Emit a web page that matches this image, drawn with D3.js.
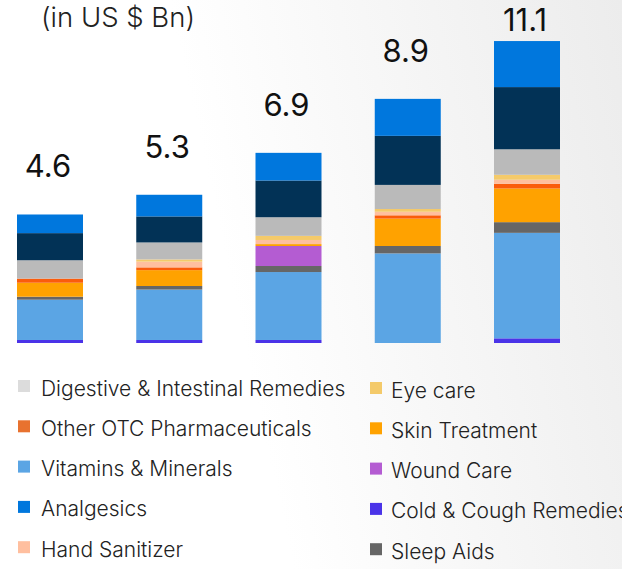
<!DOCTYPE html>
<html>
<head>
<meta charset="utf-8">
<script src="https://cdn.jsdelivr.net/npm/d3@7"></script>
<style>
  html, body { margin: 0; padding: 0; overflow: hidden; }
  svg { display: block; font-family: Inter, Roboto, "Noto Sans", sans-serif; }
</style>
</head>
<body>
<svg id="chart" width="622" height="569"></svg>
<script>
// ---- data (US $ Bn) ----
const categories = ["P1", "P2", "P3", "P4", "P5"];
const totalLabels = ["4.6", "5.3", "6.9", "8.9", "11.1"];

// stacked series, bottom to top
const coldCough     = [0.11, 0.11, 0.11, 0.00, 0.17];
const vitamins      = [1.47, 1.84, 2.48, 3.27, 3.85];
const sleepAids     = [0.11, 0.13, 0.22, 0.27, 0.39];
const woundCare     = [0.00, 0.00, 0.73, 0.00, 0.00];
const skinTreatment = [0.51, 0.58, 0.07, 1.00, 1.23];
const otherOTC      = [0.15, 0.10, 0.00, 0.12, 0.17];
const handSanitizer = [0.00, 0.21, 0.15, 0.13, 0.15];
const eyeCare       = [0.00, 0.08, 0.15, 0.10, 0.18];
const digestive     = [0.67, 0.62, 0.68, 0.88, 0.93];
const otherSegments = [0.99, 0.95, 1.34, 1.79, 2.27];
const analgesics    = [0.68, 0.79, 1.01, 1.35, 1.68];

const seriesNames = ["Cold & Cough Remedies", "Vitamins & Minerals", "Sleep Aids", "Wound Care",
  "Skin Treatment", "Other OTC Pharmaceuticals", "Hand Sanitizer", "Eye care",
  "Digestive & Intestinal Remedies", "Others", "Analgesics"];
const seriesValues = [coldCough, vitamins, sleepAids, woundCare, skinTreatment, otherOTC,
  handSanitizer, eyeCare, digestive, otherSegments, analgesics];
const seriesColors = ["#4a33e8", "#5ba5e4", "#666666", "#b45cd2", "#ffa200", "#fa5c0c",
  "#ffbf9f", "#f4ca6a", "#bababa", "#023256", "#0077dd"];

const legendLeft  = ["Digestive & Intestinal Remedies", "Other OTC Pharmaceuticals", "Vitamins & Minerals", "Analgesics", "Hand Sanitizer"];
const legendRight = ["Eye care", "Skin Treatment", "Wound Care", "Cold & Cough Remedies", "Sleep Aids"];
const legendSwatch = {
  "Digestive & Intestinal Remedies": "#dcdcdc",
  "Other OTC Pharmaceuticals": "#e8722f"
};

// ---- build ----
const W = 622, H = 569;
const svg = d3.select("#chart");

const defs = svg.append("defs");
const grad = defs.append("linearGradient").attr("id", "bg")
  .attr("x1", "0").attr("y1", "0.2").attr("x2", "1").attr("y2", "0");
grad.append("stop").attr("offset", "0.3").attr("stop-color", "#ffffff");
grad.append("stop").attr("offset", "1").attr("stop-color", "#ececec");
svg.append("rect").attr("width", W).attr("height", H).attr("fill", "url(#bg)");

const table = categories.map((c, i) => {
  const row = { cat: c };
  seriesNames.forEach((s, k) => row[s] = seriesValues[k][i]);
  return row;
});
const stack = d3.stack().keys(seriesNames)(table);

const x = d3.scalePoint().domain(categories).range([50, 527]);
const barW = 66;
const y = d3.scaleLinear().domain([0, 12]).range([343, 343 - 12 * 27.4]);
const color = d3.scaleOrdinal().domain(seriesNames).range(seriesColors);

svg.append("g").selectAll("g").data(stack).join("g")
  .attr("fill", d => color(d.key))
  .selectAll("rect").data(d => d).join("rect")
  .attr("x", d => x(d.data.cat) - barW / 2)
  .attr("width", barW)
  .attr("y", d => y(d[1]))
  .attr("height", d => Math.max(0, y(d[0]) - y(d[1])));

// totals
const tops = categories.map((c, i) => d3.sum(seriesValues, s => s[i]));
svg.append("g").selectAll("text").data(categories).join("text")
  .attr("x", d => x(d) - 2)
  .attr("y", (d, i) => Math.max(y(tops[i]) - 37, 31))
  .attr("text-anchor", "middle")
  .attr("font-size", 31)
  .attr("fill", "#111")
  .text((d, i) => totalLabels[i]);

// unit label
svg.append("text").attr("x", 41).attr("y", 27)
  .attr("font-size", 27.5).attr("font-weight", 300).attr("fill", "#222")
  .text("(in US $ Bn)");

// legend
function legendCol(items, sx, tx, y0) {
  const g = svg.append("g");
  const it = g.selectAll("g").data(items).join("g")
    .attr("transform", (d, i) => `translate(0,${y0 + i * 40.3})`);
  it.append("rect").attr("x", sx).attr("y", -15.5).attr("width", 12).attr("height", 12)
    .attr("fill", d => legendSwatch[d] || color(d));
  it.append("text").attr("x", tx).attr("y", 0)
    .attr("font-size", 21).attr("font-weight", 300).attr("fill", "#222")
    .text(d => d);
}
legendCol(legendLeft, 18, 41, 395.5);
legendCol(legendRight, 370, 391, 397.5);
</script>
</body>
</html>
